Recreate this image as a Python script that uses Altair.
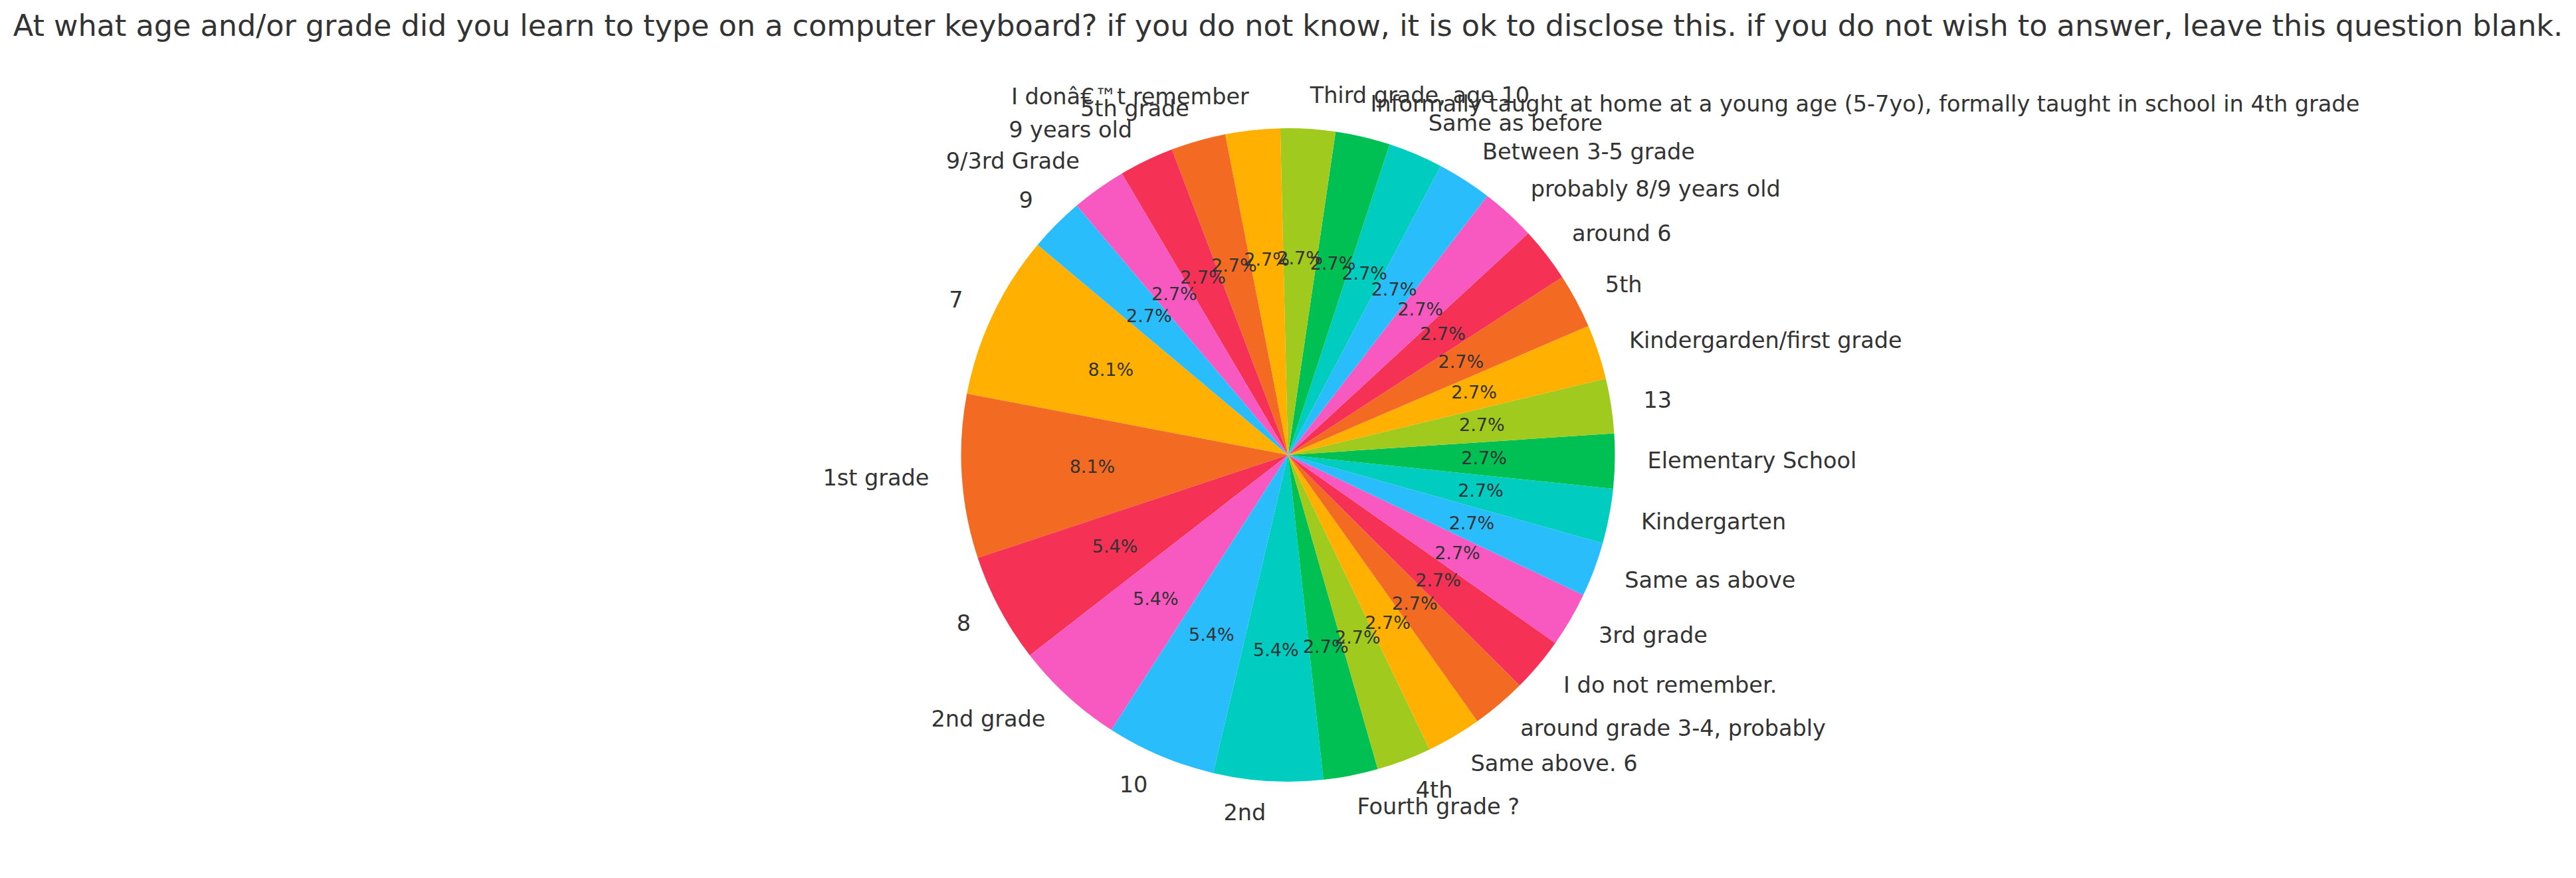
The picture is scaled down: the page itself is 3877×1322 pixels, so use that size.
import math
import altair as alt
import pandas as pd

# Responses, in the order the pie is drawn (counter-clockwise from the start angle)
labels = [
    "7", "1st grade", "8", "2nd grade", "10", "2nd",
    "Fourth grade ?", "4th", "Same above. 6", "around grade 3-4, probably",
    "I do not remember.", "3rd grade", "Same as above", "Kindergarten",
    "Elementary School", "13", "Kindergarden/first grade", "5th", "around 6",
    "probably 8/9 years old", "Between 3-5 grade", "Same as before",
    "Informally taught at home at a young age (5-7yo), formally taught in school in 4th grade",
    "Third grade, age 10", "I don\u00e2\u20ac\u2122t remember", "5th grade",
    "9 years old", "9/3rd Grade", "9",
]
counts = [3, 3, 2, 2, 2, 2] + [1] * 23

palette = ["#FFB000", "#F36A22", "#F53255", "#F759C0",
           "#2ABDFC", "#00CCC0", "#00C054", "#A0CA1E"]
slice_colors = [palette[i % len(palette)] for i in range(len(labels))]

title_text = ("At what age and/or grade did you learn to type on a computer keyboard? "
              "if you do not know, it is ok to disclose this. if you do not wish to answer, "
              "leave this question blank.")

df = pd.DataFrame({"label": labels, "count": counts, "idx": list(range(len(labels)))})

START_DEG = -50  # matplotlib start angle 140deg expressed in Vega's clockwise-from-top frame
theta_scale = alt.Scale(range=[math.radians(START_DEG), math.radians(START_DEG + 360)])

R = 492
FONT = "DejaVu Sans"
TXT = "#333333"

base = alt.Chart(df).transform_joinaggregate(
    total="sum(count)"
).transform_window(
    cum="sum(count)", sort=[alt.SortField("idx", order="descending")], frame=[None, 0]
).transform_calculate(
    pct="datum.count / datum.total",
    ang=f"({START_DEG} + 360 * (datum.cum - datum.count / 2) / datum.total) * PI / 180",
).transform_calculate(
    lab_right="sin(datum.ang) >= 0 ? datum.label : ''",
    lab_left="sin(datum.ang) < 0 ? datum.label : ''",
).encode(
    theta=alt.Theta("count:Q", stack=True, scale=theta_scale),
    order=alt.Order("idx:Q", sort="descending"),
)

pie = base.mark_arc(outerRadius=R, stroke=None).encode(
    color=alt.Color("label:N", scale=alt.Scale(domain=labels, range=slice_colors), legend=None)
)

pct_text = base.mark_text(radius=R * 0.6, font=FONT, fontSize=27, color=TXT,
                          align="center", baseline="middle").encode(
    text=alt.Text("pct:Q", format=".1%")
)

lab_r = base.mark_text(radius=R * 1.1, font=FONT, fontSize=33.5, color=TXT,
                       align="left", baseline="middle").encode(text="lab_right:N")
lab_l = base.mark_text(radius=R * 1.1, font=FONT, fontSize=33.5, color=TXT,
                       align="right", baseline="middle").encode(text="lab_left:N")

chart = alt.layer(pie, pct_text, lab_r, lab_l).properties(
    width=3877,
    height=1274,
    title=alt.TitleParams(text=title_text, fontSize=44.5, font=FONT, color=TXT,
                          fontWeight="normal", anchor="middle", offset=0, dy=15),
    autosize=alt.AutoSizeParams(type="none"),
    padding={"left": 0, "right": 0, "top": 48, "bottom": 0},
    background="white",
).configure_view(stroke=None)

chart.save("out.html", embed_options={"renderer": "svg", "actions": False})
